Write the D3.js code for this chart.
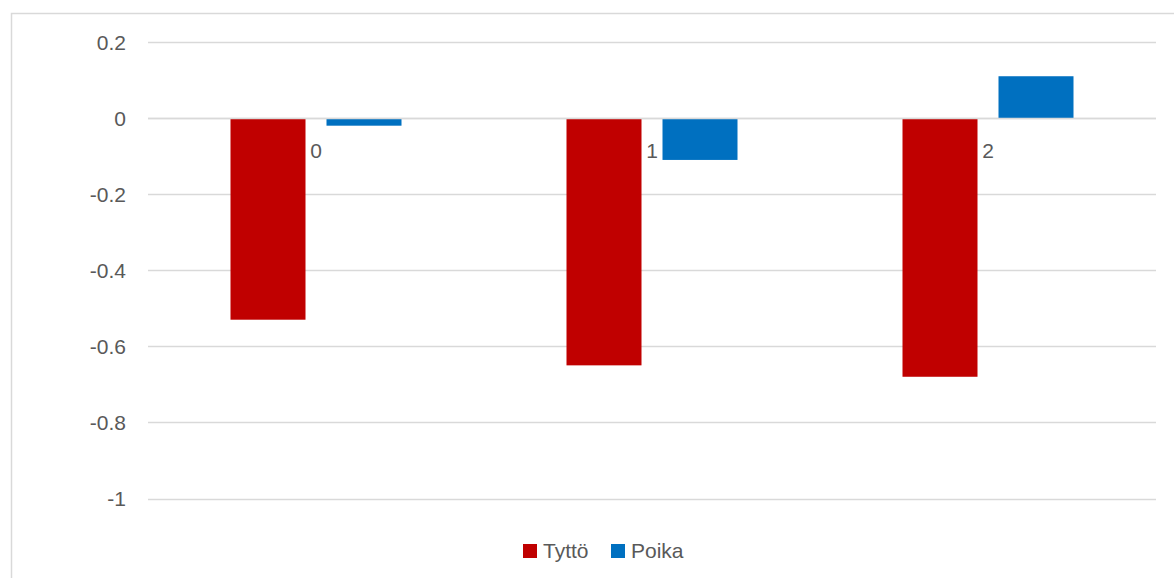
<!DOCTYPE html>
<html>
<head>
<meta charset="utf-8">
<script src="https://cdn.jsdelivr.net/npm/d3@7"></script>
<style>
  html, body { margin: 0; padding: 0; background: #fff; }
  svg { display: block; }
  text { font-family: "Liberation Sans", Arial, sans-serif; fill: #595959; }
</style>
</head>
<body>
<svg id="chart" width="1174" height="578"></svg>
<script>
// Data
const categories = ["0", "1", "2"];
const seriesNames = ["Tyttö", "Poika"];
const tyttoValues = [-0.53, -0.65, -0.68];
const poikaValues = [-0.02, -0.11, 0.11];
const yTicks = [0.2, 0, -0.2, -0.4, -0.6, -0.8, -1];
const seriesColors = ["#c00000", "#0070c0"];

const svg = d3.select("#chart");
const W = 1174, H = 578;

// Chart frame
svg.append("rect")
  .attr("x", 11.5).attr("y", 13.5)
  .attr("width", W + 20).attr("height", H + 20)
  .attr("fill", "none").attr("stroke", "#d9d9d9").attr("stroke-width", 1.5);

const plot = { left: 148, right: 1156, top: 42, bottom: 498.5 };

const y = d3.scaleLinear().domain([-1, 0.2]).range([plot.bottom, plot.top]);
const x0 = d3.scaleBand().domain(categories).range([plot.left, plot.right]).padding(0);
const groupW = 171;
const x1 = d3.scaleBand().domain(seriesNames)
  .range([(x0.bandwidth() - groupW) / 2, (x0.bandwidth() + groupW) / 2])
  .paddingInner(0.21875).paddingOuter(0);

// Gridlines
svg.append("g").selectAll("line").data(yTicks).join("line")
  .attr("x1", plot.left).attr("x2", plot.right)
  .attr("y1", d => Math.round(y(d)) + 0.5).attr("y2", d => Math.round(y(d)) + 0.5)
  .attr("stroke", "#d9d9d9").attr("stroke-width", 1.3);

// Y tick labels
svg.append("g").selectAll("text").data(yTicks).join("text")
  .attr("x", 126).attr("y", d => y(d) + 7.5)
  .attr("text-anchor", "end")
  .attr("font-size", 21)
  .text(d => d3.format("")(d).replace("−", "-"));

// Bars
const rows = categories.map((c, i) => ({ cat: c, values: [tyttoValues[i], poikaValues[i]] }));
const groups = svg.append("g").selectAll("g").data(rows).join("g")
  .attr("transform", d => `translate(${x0(d.cat)},0)`);
groups.selectAll("rect")
  .data(d => d.values.map((v, j) => ({ name: seriesNames[j], v, color: seriesColors[j] })))
  .join("rect")
  .attr("x", d => x1(d.name))
  .attr("width", x1.bandwidth())
  .attr("y", d => Math.min(y(0), y(d.v)))
  .attr("height", d => Math.abs(y(d.v) - y(0)))
  .attr("fill", d => d.color);

// Axis line at zero
svg.append("line")
  .attr("x1", plot.left).attr("x2", plot.right)
  .attr("y1", Math.round(y(0)) + 0.5).attr("y2", Math.round(y(0)) + 0.5)
  .attr("stroke", "#d9d9d9").attr("stroke-width", 1.3);

// Category labels at the zero line
svg.append("g").selectAll("text").data(categories).join("text")
  .attr("x", d => x0(d) + x0.bandwidth() / 2)
  .attr("y", y(0) + 39.5)
  .attr("text-anchor", "middle")
  .attr("font-size", 21)
  .text(d => d);

// Legend
const legend = svg.append("g");
const legendItems = [
  { name: seriesNames[0], color: seriesColors[0], x: 523 },
  { name: seriesNames[1], color: seriesColors[1], x: 611 }
];
legendItems.forEach(it => {
  legend.append("rect").attr("x", it.x).attr("y", 544).attr("width", 14).attr("height", 14).attr("fill", it.color);
  legend.append("text").attr("x", it.x + 20).attr("y", 557.5).attr("font-size", 21).text(it.name);
});
</script>
</body>
</html>
